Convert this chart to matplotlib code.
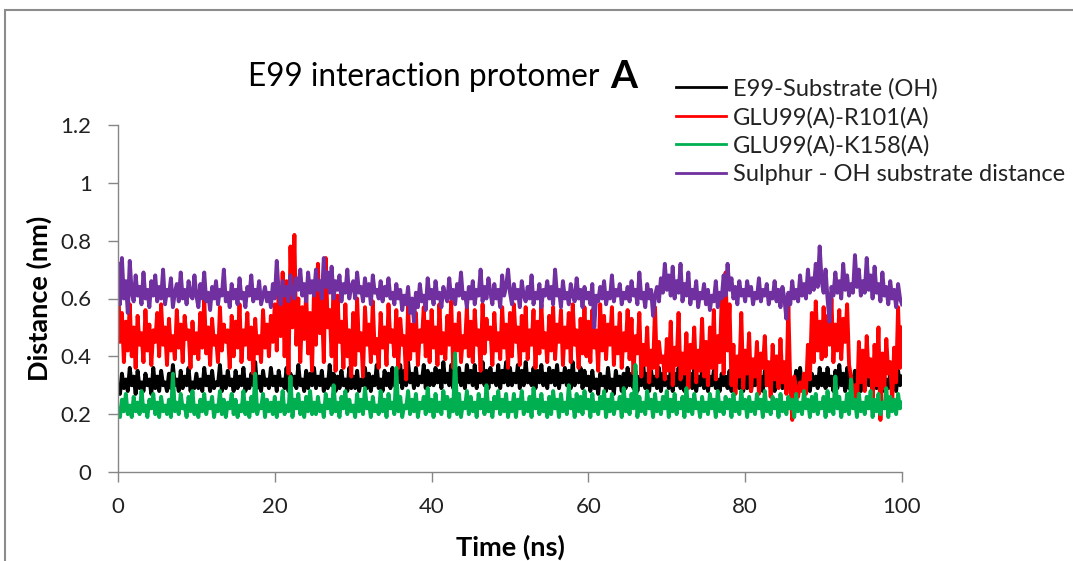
import numpy as np
import matplotlib
matplotlib.use("Agg")
import matplotlib.pyplot as plt
from matplotlib.patches import Rectangle

plt.rcParams['font.family'] = ['Lato', 'DejaVu Sans']

# distances (nm), one value every 0.25 ns
e99_substrate = [
    0.30, 0.27, 0.34, 0.29, 0.32, 0.28, 0.36, 0.30, 0.33, 0.27, 0.35, 0.29, 0.31, 0.28, 0.34, 0.30, 0.32, 0.27, 0.36, 0.29,
    0.33, 0.28, 0.35, 0.30, 0.31, 0.28, 0.34, 0.29, 0.37, 0.30, 0.32, 0.28, 0.35, 0.29, 0.33, 0.30, 0.36, 0.28, 0.31, 0.29,
    0.34, 0.29, 0.32, 0.28, 0.36, 0.30, 0.33, 0.28, 0.35, 0.29, 0.31, 0.30, 0.37, 0.28, 0.33, 0.29, 0.35, 0.30, 0.32, 0.28,
    0.35, 0.29, 0.33, 0.30, 0.36, 0.28, 0.32, 0.29, 0.34, 0.30, 0.38, 0.29, 0.33, 0.28, 0.35, 0.30, 0.32, 0.29, 0.36, 0.30,
    0.33, 0.28, 0.35, 0.30, 0.32, 0.29, 0.36, 0.28, 0.34, 0.30, 0.33, 0.29, 0.37, 0.30, 0.32, 0.28, 0.35, 0.29, 0.34, 0.30,
    0.36, 0.29, 0.33, 0.30, 0.35, 0.28, 0.32, 0.29, 0.37, 0.30, 0.34, 0.28, 0.33, 0.29, 0.35, 0.30, 0.32, 0.28, 0.36, 0.29,
    0.33, 0.29, 0.35, 0.28, 0.32, 0.30, 0.36, 0.29, 0.34, 0.28, 0.33, 0.30, 0.37, 0.29, 0.32, 0.28, 0.35, 0.30, 0.34, 0.29,
    0.36, 0.30, 0.34, 0.31, 0.37, 0.29, 0.35, 0.30, 0.38, 0.31, 0.34, 0.29, 0.36, 0.30, 0.33, 0.31, 0.37, 0.29, 0.35, 0.30,
    0.34, 0.30, 0.36, 0.31, 0.35, 0.29, 0.38, 0.31, 0.34, 0.30, 0.37, 0.29, 0.35, 0.31, 0.36, 0.30, 0.34, 0.29, 0.37, 0.31,
    0.35, 0.30, 0.37, 0.29, 0.34, 0.31, 0.38, 0.30, 0.35, 0.29, 0.36, 0.31, 0.34, 0.30, 0.37, 0.29, 0.35, 0.31, 0.38, 0.30,
    0.36, 0.30, 0.34, 0.31, 0.37, 0.29, 0.35, 0.30, 0.38, 0.31, 0.34, 0.30, 0.36, 0.29, 0.35, 0.31, 0.37, 0.30, 0.34, 0.29,
    0.36, 0.31, 0.35, 0.30, 0.37, 0.29, 0.34, 0.31, 0.36, 0.30, 0.35, 0.29, 0.38, 0.30, 0.34, 0.31, 0.36, 0.29, 0.35, 0.30,
    0.33, 0.28, 0.35, 0.29, 0.32, 0.27, 0.34, 0.30, 0.33, 0.28, 0.36, 0.29, 0.32, 0.27, 0.35, 0.30, 0.33, 0.28, 0.34, 0.29,
    0.36, 0.30, 0.34, 0.29, 0.35, 0.28, 0.33, 0.30, 0.37, 0.29, 0.34, 0.28, 0.35, 0.30, 0.33, 0.29, 0.36, 0.28, 0.34, 0.30,
    0.33, 0.29, 0.35, 0.28, 0.34, 0.30, 0.36, 0.29, 0.33, 0.28, 0.35, 0.30, 0.34, 0.29, 0.36, 0.28, 0.33, 0.30, 0.35, 0.29,
    0.34, 0.28, 0.33, 0.30, 0.35, 0.29, 0.32, 0.28, 0.34, 0.30, 0.33, 0.29, 0.35, 0.28, 0.32, 0.30, 0.34, 0.29, 0.33, 0.28,
    0.35, 0.29, 0.33, 0.28, 0.34, 0.30, 0.36, 0.29, 0.33, 0.28, 0.35, 0.30, 0.32, 0.29, 0.34, 0.28, 0.33, 0.30, 0.35, 0.29,
    0.33, 0.28, 0.34, 0.30, 0.32, 0.29, 0.35, 0.28, 0.36, 0.30, 0.33, 0.29, 0.35, 0.28, 0.34, 0.30, 0.33, 0.29, 0.36, 0.30,
    0.34, 0.29, 0.36, 0.30, 0.33, 0.28, 0.35, 0.29, 0.37, 0.30, 0.34, 0.28, 0.36, 0.29, 0.33, 0.30, 0.35, 0.29, 0.34, 0.28,
    0.33, 0.29, 0.35, 0.30, 0.32, 0.28, 0.34, 0.29, 0.33, 0.30, 0.35, 0.28, 0.32, 0.29, 0.34, 0.30, 0.33, 0.28, 0.35, 0.30,
    0.33,
]

glu99_r101 = [
    0.68, 0.45, 0.55, 0.38, 0.52, 0.42, 0.58, 0.40, 0.50, 0.36, 0.54, 0.44, 0.48, 0.38, 0.56, 0.42, 0.51, 0.37, 0.49, 0.45,
    0.55, 0.40, 0.58, 0.44, 0.50, 0.37, 0.53, 0.42, 0.47, 0.39, 0.56, 0.43, 0.51, 0.38, 0.54, 0.46, 0.49, 0.36, 0.52, 0.41,
    0.48, 0.39, 0.55, 0.43, 0.60, 0.41, 0.50, 0.37, 0.53, 0.44, 0.47, 0.38, 0.57, 0.42, 0.51, 0.45, 0.49, 0.36, 0.54, 0.40,
    0.52, 0.43, 0.58, 0.38, 0.49, 0.44, 0.55, 0.39, 0.50, 0.34, 0.53, 0.41, 0.47, 0.38, 0.56, 0.43, 0.51, 0.40, 0.54, 0.45,
    0.58, 0.42, 0.63, 0.47, 0.69, 0.40, 0.66, 0.34, 0.78, 0.50, 0.82, 0.44, 0.60, 0.38, 0.57, 0.46, 0.62, 0.41, 0.55, 0.35,
    0.63, 0.44, 0.72, 0.48, 0.59, 0.38, 0.74, 0.50, 0.56, 0.40, 0.66, 0.35, 0.61, 0.45, 0.52, 0.36, 0.58, 0.40, 0.49, 0.33,
    0.55, 0.37, 0.60, 0.42, 0.48, 0.33, 0.57, 0.44, 0.51, 0.38, 0.59, 0.41, 0.46, 0.36, 0.55, 0.43, 0.50, 0.37, 0.58, 0.45,
    0.49, 0.40, 0.56, 0.36, 0.53, 0.44, 0.47, 0.32, 0.58, 0.39, 0.51, 0.42, 0.55, 0.37, 0.49, 0.45, 0.57, 0.40, 0.52, 0.38,
    0.56, 0.43, 0.50, 0.37, 0.58, 0.41, 0.48, 0.39, 0.54, 0.44, 0.59, 0.36, 0.51, 0.42, 0.55, 0.38, 0.47, 0.43, 0.57, 0.40,
    0.52, 0.38, 0.56, 0.44, 0.49, 0.35, 0.58, 0.41, 0.53, 0.46, 0.50, 0.37, 0.55, 0.42, 0.48, 0.39, 0.57, 0.43, 0.51, 0.36,
    0.55, 0.40, 0.58, 0.45, 0.50, 0.37, 0.54, 0.42, 0.57, 0.39, 0.49, 0.44, 0.56, 0.36, 0.52, 0.41, 0.58, 0.43, 0.48, 0.38,
    0.54, 0.42, 0.57, 0.39, 0.51, 0.45, 0.56, 0.37, 0.50, 0.43, 0.55, 0.38, 0.58, 0.44, 0.49, 0.36, 0.53, 0.41, 0.57, 0.40,
    0.52, 0.38, 0.56, 0.43, 0.49, 0.35, 0.58, 0.42, 0.54, 0.39, 0.51, 0.44, 0.57, 0.37, 0.50, 0.41, 0.55, 0.36, 0.48, 0.42,
    0.56, 0.39, 0.53, 0.34, 0.47, 0.41, 0.55, 0.33, 0.44, 0.37, 0.50, 0.31, 0.42, 0.36, 0.57, 0.33, 0.45, 0.38, 0.40, 0.32,
    0.46, 0.35, 0.52, 0.30, 0.43, 0.37, 0.55, 0.32, 0.41, 0.34, 0.48, 0.29, 0.44, 0.36, 0.50, 0.31, 0.42, 0.35, 0.53, 0.33,
    0.45, 0.30, 0.50, 0.36, 0.56, 0.32, 0.47, 0.38, 0.60, 0.34, 0.69, 0.42, 0.58, 0.30, 0.44, 0.27, 0.40, 0.33, 0.55, 0.29,
    0.42, 0.34, 0.48, 0.28, 0.39, 0.33, 0.45, 0.27, 0.41, 0.36, 0.47, 0.30, 0.38, 0.26, 0.44, 0.32, 0.40, 0.29, 0.46, 0.31,
    0.38, 0.27, 0.58, 0.30, 0.18, 0.33, 0.29, 0.26, 0.31, 0.28, 0.34, 0.27, 0.44, 0.32, 0.55, 0.38, 0.59, 0.42, 0.52, 0.39,
    0.57, 0.40, 0.54, 0.44, 0.60, 0.38, 0.51, 0.42, 0.56, 0.39, 0.53, 0.45, 0.58, 0.37, 0.33, 0.26, 0.30, 0.22, 0.45, 0.31,
    0.42, 0.28, 0.47, 0.33, 0.39, 0.25, 0.44, 0.30, 0.50, 0.18, 0.41, 0.29, 0.46, 0.34, 0.38, 0.24, 0.43, 0.31, 0.57, 0.36,
    0.50,
]

glu99_k158 = [
    0.22, 0.19, 0.25, 0.21, 0.27, 0.20, 0.23, 0.19, 0.26, 0.21, 0.24, 0.20, 0.28, 0.21, 0.23, 0.19, 0.25, 0.22, 0.27, 0.20,
    0.24, 0.19, 0.26, 0.21, 0.23, 0.20, 0.25, 0.19, 0.34, 0.21, 0.24, 0.20, 0.27, 0.22, 0.23, 0.19, 0.26, 0.21, 0.28, 0.20,
    0.23, 0.19, 0.25, 0.21, 0.27, 0.20, 0.24, 0.22, 0.26, 0.19, 0.23, 0.21, 0.28, 0.20, 0.25, 0.19, 0.24, 0.22, 0.27, 0.20,
    0.25, 0.19, 0.23, 0.21, 0.28, 0.20, 0.24, 0.19, 0.26, 0.21, 0.34, 0.20, 0.23, 0.22, 0.27, 0.19, 0.25, 0.21, 0.24, 0.20,
    0.26, 0.19, 0.24, 0.21, 0.28, 0.20, 0.23, 0.21, 0.33, 0.19, 0.25, 0.22, 0.27, 0.20, 0.24, 0.19, 0.26, 0.21, 0.28, 0.20,
    0.24, 0.20, 0.26, 0.21, 0.23, 0.19, 0.27, 0.22, 0.25, 0.20, 0.30, 0.21, 0.24, 0.19, 0.26, 0.22, 0.28, 0.20, 0.25, 0.21,
    0.23, 0.19, 0.27, 0.21, 0.25, 0.20, 0.29, 0.22, 0.24, 0.19, 0.26, 0.21, 0.23, 0.20, 0.28, 0.21, 0.25, 0.19, 0.27, 0.22,
    0.24, 0.20, 0.36, 0.21, 0.26, 0.19, 0.23, 0.22, 0.28, 0.20, 0.25, 0.21, 0.27, 0.19, 0.24, 0.22, 0.26, 0.20, 0.29, 0.21,
    0.25, 0.19, 0.27, 0.21, 0.24, 0.20, 0.28, 0.22, 0.26, 0.19, 0.25, 0.21, 0.41, 0.20, 0.27, 0.19, 0.24, 0.22, 0.28, 0.20,
    0.26, 0.21, 0.24, 0.19, 0.27, 0.22, 0.25, 0.20, 0.30, 0.21, 0.24, 0.19, 0.26, 0.22, 0.28, 0.20, 0.25, 0.21, 0.27, 0.19,
    0.24, 0.21, 0.27, 0.19, 0.25, 0.22, 0.28, 0.20, 0.24, 0.21, 0.26, 0.19, 0.29, 0.22, 0.25, 0.20, 0.27, 0.21, 0.24, 0.19,
    0.26, 0.20, 0.28, 0.22, 0.25, 0.19, 0.27, 0.21, 0.24, 0.20, 0.30, 0.22, 0.25, 0.19, 0.27, 0.21, 0.26, 0.20, 0.28, 0.22,
    0.25, 0.19, 0.27, 0.21, 0.24, 0.20, 0.26, 0.22, 0.28, 0.19, 0.25, 0.21, 0.27, 0.20, 0.24, 0.22, 0.26, 0.19, 0.29, 0.21,
    0.25, 0.20, 0.27, 0.22, 0.37, 0.19, 0.26, 0.21, 0.24, 0.20, 0.28, 0.22, 0.25, 0.19, 0.27, 0.21, 0.24, 0.20, 0.26, 0.22,
    0.28, 0.19, 0.25, 0.21, 0.27, 0.20, 0.24, 0.22, 0.26, 0.19, 0.29, 0.21, 0.25, 0.20, 0.27, 0.22, 0.24, 0.19, 0.26, 0.21,
    0.24, 0.20, 0.27, 0.22, 0.25, 0.19, 0.28, 0.21, 0.24, 0.20, 0.26, 0.22, 0.25, 0.19, 0.27, 0.21, 0.24, 0.20, 0.28, 0.22,
    0.25, 0.19, 0.26, 0.21, 0.24, 0.20, 0.27, 0.22, 0.25, 0.19, 0.28, 0.21, 0.24, 0.20, 0.26, 0.22, 0.25, 0.19, 0.27, 0.21,
    0.24, 0.20, 0.26, 0.22, 0.25, 0.19, 0.27, 0.21, 0.24, 0.20, 0.28, 0.22, 0.25, 0.19, 0.26, 0.21, 0.27, 0.20, 0.24, 0.22,
    0.26, 0.19, 0.28, 0.21, 0.25, 0.20, 0.33, 0.22, 0.26, 0.19, 0.24, 0.21, 0.27, 0.20, 0.32, 0.22, 0.25, 0.19, 0.27, 0.21,
    0.24, 0.20, 0.26, 0.22, 0.28, 0.19, 0.25, 0.21, 0.27, 0.20, 0.24, 0.22, 0.29, 0.19, 0.26, 0.21, 0.25, 0.20, 0.27, 0.22,
    0.24,
]

sulphur_oh = [
    0.72, 0.58, 0.74, 0.60, 0.66, 0.55, 0.73, 0.62, 0.59, 0.68, 0.61, 0.64, 0.58, 0.69, 0.60, 0.63, 0.57, 0.66, 0.61, 0.68,
    0.59, 0.64, 0.60, 0.70, 0.58, 0.63, 0.61, 0.67, 0.57, 0.62, 0.65, 0.59, 0.69, 0.60, 0.63, 0.58, 0.66, 0.61, 0.60, 0.68,
    0.61, 0.57, 0.65, 0.60, 0.69, 0.59, 0.62, 0.56, 0.64, 0.60, 0.66, 0.58, 0.63, 0.61, 0.70, 0.59, 0.62, 0.57, 0.65, 0.60,
    0.63, 0.58, 0.67, 0.60, 0.62, 0.57, 0.64, 0.61, 0.68, 0.59, 0.63, 0.60, 0.66, 0.58, 0.61, 0.64, 0.59, 0.62, 0.57, 0.65,
    0.60, 0.73, 0.62, 0.58, 0.66, 0.61, 0.64, 0.59, 0.68, 0.62, 0.60, 0.67, 0.63, 0.70, 0.61, 0.65, 0.59, 0.69, 0.62, 0.66,
    0.61, 0.70, 0.63, 0.66, 0.60, 0.74, 0.64, 0.69, 0.62, 0.71, 0.60, 0.66, 0.63, 0.68, 0.59, 0.65, 0.62, 0.70, 0.60, 0.64,
    0.66, 0.60, 0.69, 0.62, 0.64, 0.59, 0.67, 0.61, 0.65, 0.58, 0.68, 0.62, 0.63, 0.60, 0.66, 0.59, 0.64, 0.61, 0.67, 0.60,
    0.62, 0.58, 0.65, 0.60, 0.63, 0.56, 0.61, 0.58, 0.64, 0.55, 0.60, 0.52, 0.62, 0.57, 0.65, 0.59, 0.61, 0.56, 0.67, 0.60,
    0.63, 0.58, 0.66, 0.60, 0.62, 0.57, 0.64, 0.61, 0.59, 0.67, 0.60, 0.63, 0.58, 0.65, 0.61, 0.69, 0.60, 0.62, 0.57, 0.64,
    0.60, 0.66, 0.58, 0.63, 0.61, 0.70, 0.59, 0.64, 0.60, 0.67, 0.62, 0.58, 0.65, 0.60, 0.63, 0.57, 0.68, 0.61, 0.64, 0.70,
    0.62, 0.58, 0.65, 0.60, 0.63, 0.57, 0.66, 0.61, 0.59, 0.64, 0.60, 0.68, 0.58, 0.62, 0.60, 0.65, 0.57, 0.63, 0.61, 0.66,
    0.60, 0.64, 0.58, 0.70, 0.61, 0.63, 0.57, 0.66, 0.60, 0.62, 0.58, 0.65, 0.61, 0.59, 0.67, 0.60, 0.63, 0.57, 0.64, 0.60,
    0.62, 0.58, 0.65, 0.50, 0.61, 0.59, 0.64, 0.60, 0.66, 0.58, 0.62, 0.60, 0.68, 0.59, 0.63, 0.61, 0.65, 0.58, 0.62, 0.60,
    0.64, 0.59, 0.66, 0.61, 0.63, 0.58, 0.69, 0.60, 0.62, 0.57, 0.65, 0.60, 0.63, 0.54, 0.61, 0.64, 0.59, 0.67, 0.62, 0.72,
    0.63, 0.68, 0.61, 0.71, 0.60, 0.66, 0.62, 0.72, 0.59, 0.65, 0.61, 0.69, 0.58, 0.63, 0.60, 0.66, 0.57, 0.62, 0.60, 0.65,
    0.58, 0.63, 0.56, 0.61, 0.59, 0.66, 0.57, 0.62, 0.60, 0.68, 0.61, 0.72, 0.63, 0.67, 0.60, 0.64, 0.58, 0.66, 0.61, 0.63,
    0.59, 0.66, 0.61, 0.64, 0.58, 0.62, 0.60, 0.67, 0.59, 0.63, 0.61, 0.65, 0.58, 0.62, 0.60, 0.66, 0.59, 0.63, 0.57, 0.64,
    0.60, 0.53, 0.62, 0.58, 0.66, 0.60, 0.63, 0.59, 0.68, 0.61, 0.65, 0.60, 0.70, 0.62, 0.67, 0.63, 0.72, 0.64, 0.78, 0.66,
    0.62, 0.70, 0.60, 0.52, 0.64, 0.61, 0.69, 0.62, 0.66, 0.60, 0.72, 0.63, 0.68, 0.61, 0.65, 0.62, 0.75, 0.64, 0.70, 0.61,
    0.66, 0.62, 0.74, 0.63, 0.68, 0.60, 0.71, 0.62, 0.65, 0.59, 0.69, 0.61, 0.64, 0.58, 0.66, 0.60, 0.63, 0.57, 0.65, 0.60,
    0.58,
]

labels = ['E99-Substrate (OH)', 'GLU99(A)-R101(A)', 'GLU99(A)-K158(A)', 'Sulphur - OH substrate distance']
colors = ['#000000', '#ff0000', '#00b050', '#7030a0']
series = [e99_substrate, glu99_r101, glu99_k158, sulphur_oh]

x_ticks = [0, 20, 40, 60, 80, 100]
y_ticks = [0, 0.2, 0.4, 0.6, 0.8, 1, 1.2]
y_tick_labels = ['0', '0.2', '0.4', '0.6', '0.8', '1', '1.2']

fig = plt.figure(figsize=(10.73, 5.61), dpi=100)
W, H = 1073.0, 561.0

# grey chart-area frame (runs off the right and bottom edge)
fig.patches.append(Rectangle((5 / W, -0.05), 1.2, 1 - 10 / H + 0.05, transform=fig.transFigure,
                             fill=False, edgecolor='#8c8c8c', linewidth=1.5))

ax = fig.add_axes([118 / W, 1 - 472 / H, 784 / W, 347 / H])
grey = '#868686'

for vals, col, lab in zip(series, colors, labels):
    t = np.linspace(0, 100, len(vals))
    ax.plot(t, vals, color=col, linewidth=2.8, label=lab)

ax.set_xlim(0, 100)
ax.set_ylim(0, 1.2)
ax.set_xticks(x_ticks)
ax.set_xticklabels([str(v) for v in x_ticks])
ax.set_yticks(y_ticks)
ax.set_yticklabels(y_tick_labels)
for s in ['top', 'right']:
    ax.spines[s].set_visible(False)
for s in ['left', 'bottom']:
    ax.spines[s].set_color(grey)
    ax.spines[s].set_linewidth(1.0)
ax.tick_params(axis='both', direction='out', length=7, width=1.0, color=grey,
               labelsize=16, labelcolor='#222222')
ax.tick_params(axis='x', pad=11)
ax.tick_params(axis='y', pad=12)

ax.set_xlabel('Time (ns)', fontsize=19.5, fontweight='bold', labelpad=13)
ax.set_ylabel('Distance (nm)', fontsize=19.5, fontweight='bold', labelpad=6)

# title with the large bold "A"
fig.text(248 / W, 1 - 77 / H, 'E99 interaction protomer', fontsize=22.7, ha='left', va='center')
fig.text(610 / W, 1 - 77 / H, 'A', fontsize=28, fontweight='bold', ha='left', va='center')

leg = fig.legend(loc='upper left', bbox_to_anchor=(676 / W, 1 - 78 / H), frameon=False,
                 fontsize=17, handlelength=2.1, handletextpad=0.3, labelspacing=0.3,
                 borderaxespad=0, borderpad=0)
for line in leg.get_lines():
    line.set_linewidth(2.0)
for txt in leg.get_texts():
    txt.set_color('#222222')

fig.savefig('out.png', dpi=100)
